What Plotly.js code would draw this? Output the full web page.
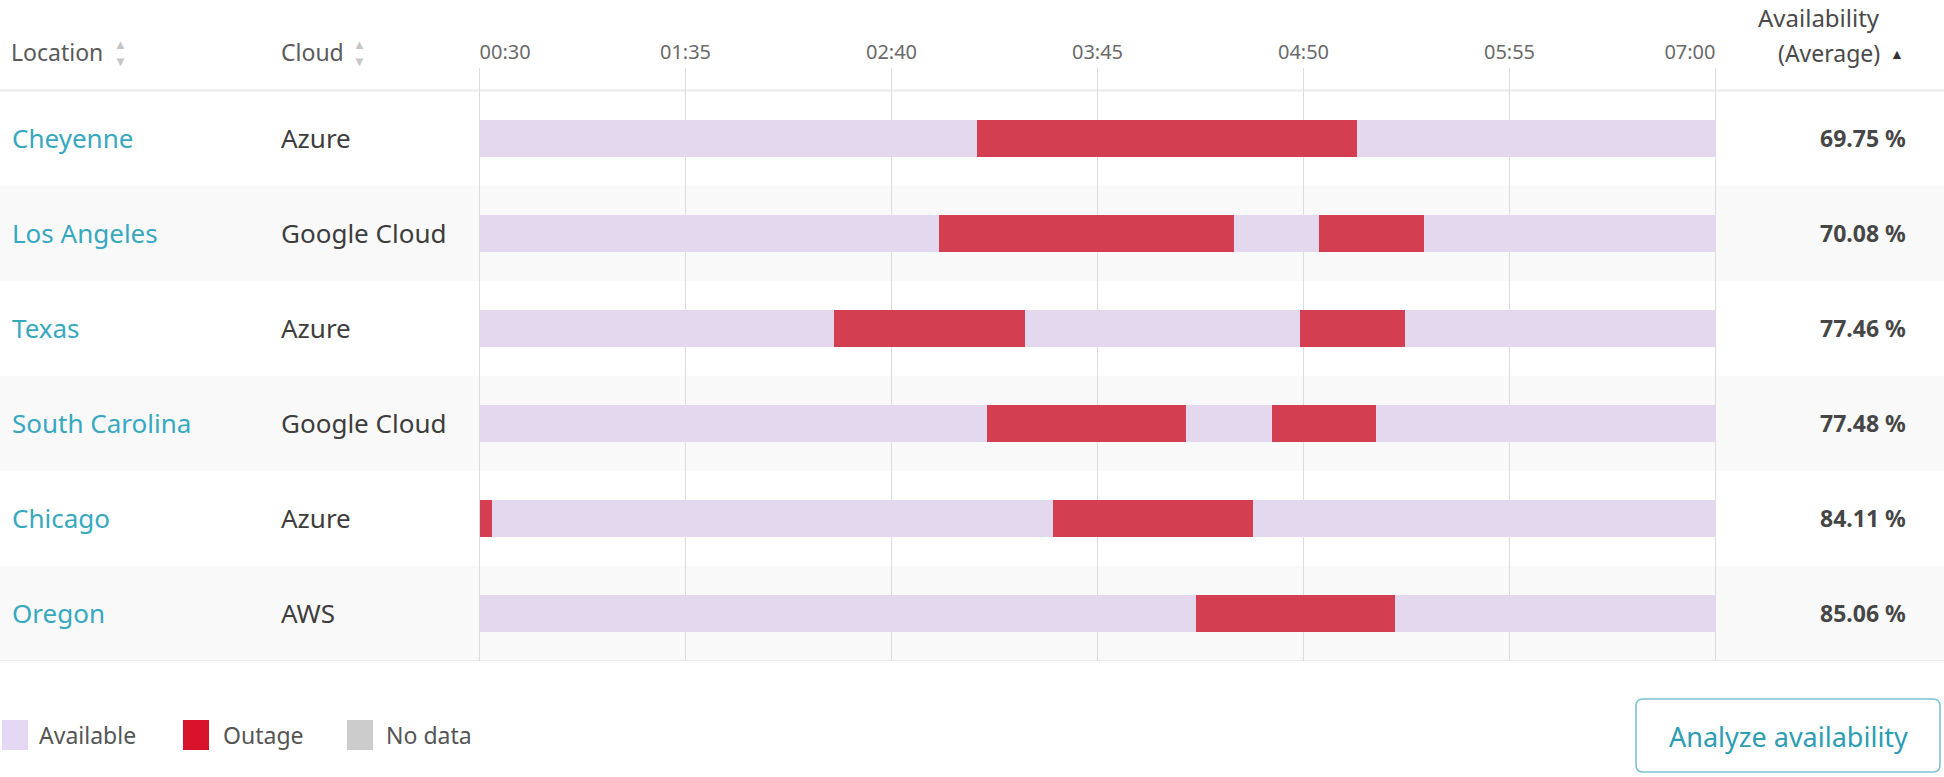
<!DOCTYPE html>
<html>
<head>
<meta charset="utf-8">
<script src="https://cdn.plot.ly/plotly-3.0.1.min.js"></script>
<style>
  html, body { margin: 0; padding: 0; background: #ffffff; }
  #chart { width: 1944px; height: 777px; }
</style>
</head>
<body>
<div id="chart"></div>
<script>
// ---------- data ----------
const locations = ['Cheyenne', 'Los Angeles', 'Texas', 'South Carolina', 'Chicago', 'Oregon'];
const clouds = ['Azure', 'Google Cloud', 'Azure', 'Google Cloud', 'Azure', 'AWS'];
const availability = [69.75, 70.08, 77.46, 77.48, 84.11, 85.06];

const windowStart = '00:30';
const windowEnd = '07:00';

const outageLocation = ['Cheyenne', 'Los Angeles', 'Los Angeles', 'Texas', 'Texas',
  'South Carolina', 'South Carolina', 'Chicago', 'Chicago', 'Oregon'];
const outageStart = ['03:07', '02:55', '04:55', '02:22', '04:49', '03:10', '04:40', '00:30', '03:31', '04:16'];
const outageEnd   = ['05:07', '04:28', '05:28', '03:22', '05:22', '04:13', '05:13', '00:34', '04:34', '05:19'];

const tickLabels = ['00:30', '01:35', '02:40', '03:45', '04:50', '05:55', '07:00'];

const legendNames = ['Available', 'Outage', 'No data'];
const legendColors = ['#e5d8f4', '#d8132b', '#cccccc'];

// ---------- helpers ----------
const W = 1944, H = 777;
const px = v => v / W;
const py = v => 1 - v / H;
const toMin = s => { const [h, m] = s.split(':').map(Number); return h * 60 + m; };

const FONT = 'Noto Sans, Open Sans, sans-serif';
const AVAILABLE = '#e4d8ef';
const OUTAGE = '#d33f51';
const TEAL = '#36a8c0';

const x0 = toMin(windowStart), x1 = toMin(windowEnd);
const BARW = 0.39;

const traces = [
  {
    type: 'bar', orientation: 'h', name: 'Available',
    y: locations,
    base: locations.map(() => x0),
    x: locations.map(() => x1 - x0),
    width: BARW,
    marker: { color: AVAILABLE, line: { width: 0 } },
    hoverinfo: 'skip', showlegend: false
  },
  {
    type: 'bar', orientation: 'h', name: 'Outage',
    y: outageLocation,
    base: outageStart.map(toMin),
    x: outageStart.map((s, i) => toMin(outageEnd[i]) - toMin(s)),
    width: BARW,
    marker: { color: OUTAGE, line: { width: 0 } },
    hoverinfo: 'skip', showlegend: false
  },
  // carriers for the end-label axes (no marks)
  { type: 'scatter', x: [], y: [], xaxis: 'x2', yaxis: 'y', showlegend: false, hoverinfo: 'skip' },
  { type: 'scatter', x: [], y: [], xaxis: 'x3', yaxis: 'y', showlegend: false, hoverinfo: 'skip' }
];

// ---------- shapes ----------
const shapes = [];
locations.forEach((loc, i) => {
  if (i % 2 === 1) {
    shapes.push({ type: 'rect', layer: 'below', xref: 'paper', yref: 'y',
      x0: 0, x1: 1, y0: i - 0.5, y1: i + 0.5,
      fillcolor: '#f9f9f9', line: { width: 0 } });
  }
});
shapes.push({ type: 'line', layer: 'below', xref: 'paper', yref: 'y', x0: 0, x1: 1,
  y0: -0.5, y1: -0.5, line: { color: '#ebebeb', width: 2 } });
shapes.push({ type: 'line', layer: 'below', xref: 'paper', yref: 'y', x0: 0, x1: 1,
  y0: locations.length - 0.5, y1: locations.length - 0.5, line: { color: '#e6e6e6', width: 1.5 } });

// legend
const legendBoxX = [2, 183, 347];
const legendTextX = [37, 221, 384];
const legendY = 735;
legendNames.forEach((n, i) => {
  shapes.push({ type: 'rect', xref: 'paper', yref: 'paper',
    x0: px(legendBoxX[i]), x1: px(legendBoxX[i] + 26),
    y0: py(legendY + 15), y1: py(legendY - 15),
    fillcolor: legendColors[i], line: { width: 0 } });
});

// button (rounded rectangle)
function roundRect(l, t, r, b, rad) {
  const X = v => px(v).toFixed(5), Y = v => py(v).toFixed(5);
  return `M ${X(l + rad)} ${Y(t)} L ${X(r - rad)} ${Y(t)} Q ${X(r)} ${Y(t)} ${X(r)} ${Y(t + rad)} ` +
    `L ${X(r)} ${Y(b - rad)} Q ${X(r)} ${Y(b)} ${X(r - rad)} ${Y(b)} L ${X(l + rad)} ${Y(b)} ` +
    `Q ${X(l)} ${Y(b)} ${X(l)} ${Y(b - rad)} L ${X(l)} ${Y(t + rad)} Q ${X(l)} ${Y(t)} ${X(l + rad)} ${Y(t)} Z`;
}
shapes.push({ type: 'path', xref: 'paper', yref: 'paper',
  path: roundRect(1636, 699, 1940, 772, 7),
  fillcolor: '#ffffff', line: { color: '#7cc3d0', width: 1.6 } });

// ---------- annotations ----------
const annotations = [];
locations.forEach((loc, i) => {
  annotations.push({ xref: 'paper', yref: 'y', x: px(10), y: loc, text: loc,
    xanchor: 'left', yanchor: 'middle', showarrow: false,
    font: { family: FONT, size: 26, color: TEAL } });
  annotations.push({ xref: 'paper', yref: 'y', x: px(279), y: loc, text: clouds[i],
    xanchor: 'left', yanchor: 'middle', showarrow: false,
    font: { family: FONT, size: 26, color: '#3d3d3d' } });
  annotations.push({ xref: 'paper', yref: 'y', x: px(1908), y: loc,
    text: '<b>' + availability[i].toFixed(2) + ' %</b>',
    xanchor: 'right', yanchor: 'middle', showarrow: false,
    font: { family: FONT, size: 23, color: '#464646' } });
});

// headers
const hdrFont = { family: FONT, size: 23, color: '#5a5a5a' };
const sortFont = { family: FONT, size: 13, color: '#c6c6c6' };
annotations.push({ xref: 'paper', yref: 'paper', x: px(9), y: py(52), text: 'Location',
  xanchor: 'left', yanchor: 'middle', showarrow: false, font: hdrFont });
annotations.push({ xref: 'paper', yref: 'paper', x: px(120), y: py(52), text: '▲<br>▼',
  xanchor: 'center', yanchor: 'middle', showarrow: false, font: sortFont });
annotations.push({ xref: 'paper', yref: 'paper', x: px(279), y: py(52), text: 'Cloud',
  xanchor: 'left', yanchor: 'middle', showarrow: false, font: hdrFont });
annotations.push({ xref: 'paper', yref: 'paper', x: px(359), y: py(52), text: '▲<br>▼',
  xanchor: 'center', yanchor: 'middle', showarrow: false, font: sortFont });
annotations.push({ xref: 'paper', yref: 'paper', x: px(1882), y: py(17), text: 'Availability',
  xanchor: 'right', yanchor: 'middle', showarrow: false,
  font: { family: FONT, size: 24, color: '#4a4a4a' } });
annotations.push({ xref: 'paper', yref: 'paper', x: px(1882), y: py(53), text: '(Average)',
  xanchor: 'right', yanchor: 'middle', showarrow: false,
  font: { family: FONT, size: 23, color: '#4a4a4a' } });
annotations.push({ xref: 'paper', yref: 'paper', x: px(1897), y: py(54), text: '▲',
  xanchor: 'center', yanchor: 'middle', showarrow: false,
  font: { family: FONT, size: 14, color: '#333333' } });

// legend texts
legendNames.forEach((n, i) => {
  annotations.push({ xref: 'paper', yref: 'paper', x: px(legendTextX[i]), y: py(legendY), text: n,
    xanchor: 'left', yanchor: 'middle', showarrow: false,
    font: { family: FONT, size: 23, color: '#555555' } });
});

// button text
annotations.push({ xref: 'paper', yref: 'paper', x: px(1788), y: py(736), text: 'Analyze availability',
  xanchor: 'center', yanchor: 'middle', showarrow: false,
  font: { family: FONT, size: 27, color: '#2c9db2' } });

// ---------- layout ----------
const rowTop = 90.5, rowBottom = 661, gridTop = 68;
const rowH = (rowBottom - rowTop) / locations.length;
const extra = (rowTop - gridTop) / rowH;

// small padding so the end gridlines are drawn
const gridL = 479.5, gridR = 1715.5;
const pxPerMin = (gridR - gridL) / (x1 - x0);
const padMin = 0.8;
const xDomain = [px(gridL - padMin * pxPerMin), px(gridR + padMin * pxPerMin)];
const xRange = [x0 - padMin, x1 + padMin];

const tickFont = { family: FONT, size: 20, color: '#6a6a6a' };
const lastIdx = tickLabels.length - 1;

const endAxis = (label, pos) => ({
  domain: xDomain, range: xRange, overlaying: 'x', anchor: 'y', side: 'top',
  tickvals: [toMin(label)], ticktext: [label],
  ticks: '', ticklabelposition: pos, ticklabelstandoff: 4, tickfont: tickFont,
  showgrid: false, zeroline: false, showline: false, fixedrange: true
});

const layout = {
  width: W, height: H,
  margin: { l: 0, r: 0, t: 0, b: 0, pad: 0 },
  paper_bgcolor: '#ffffff', plot_bgcolor: 'rgba(0,0,0,0)',
  barmode: 'overlay', bargap: 0,
  showlegend: false,
  font: { family: FONT },
  xaxis: {
    domain: xDomain,
    range: xRange,
    side: 'top',
    tickvals: tickLabels.map(toMin),
    ticktext: tickLabels.map((t, i) => (i === 0 || i === lastIdx) ? '' : t),
    ticks: '',
    ticklabelstandoff: 4,
    tickfont: tickFont,
    showgrid: true, gridcolor: '#dcdcdc', gridwidth: 1.5,
    zeroline: false, showline: false, fixedrange: true
  },
  xaxis2: endAxis(tickLabels[0], 'outside right'),
  xaxis3: endAxis(tickLabels[lastIdx], 'outside left'),
  yaxis: {
    domain: [1 - rowBottom / H, 1 - gridTop / H],
    type: 'category',
    categoryarray: locations, categoryorder: 'array',
    range: [locations.length - 0.5, -0.5 - extra],
    showticklabels: false, showgrid: false, zeroline: false, showline: false,
    ticks: '', fixedrange: true
  },
  shapes: shapes,
  annotations: annotations
};

Plotly.newPlot('chart', traces, layout, { displayModeBar: false, staticPlot: true });
</script>
</body>
</html>
